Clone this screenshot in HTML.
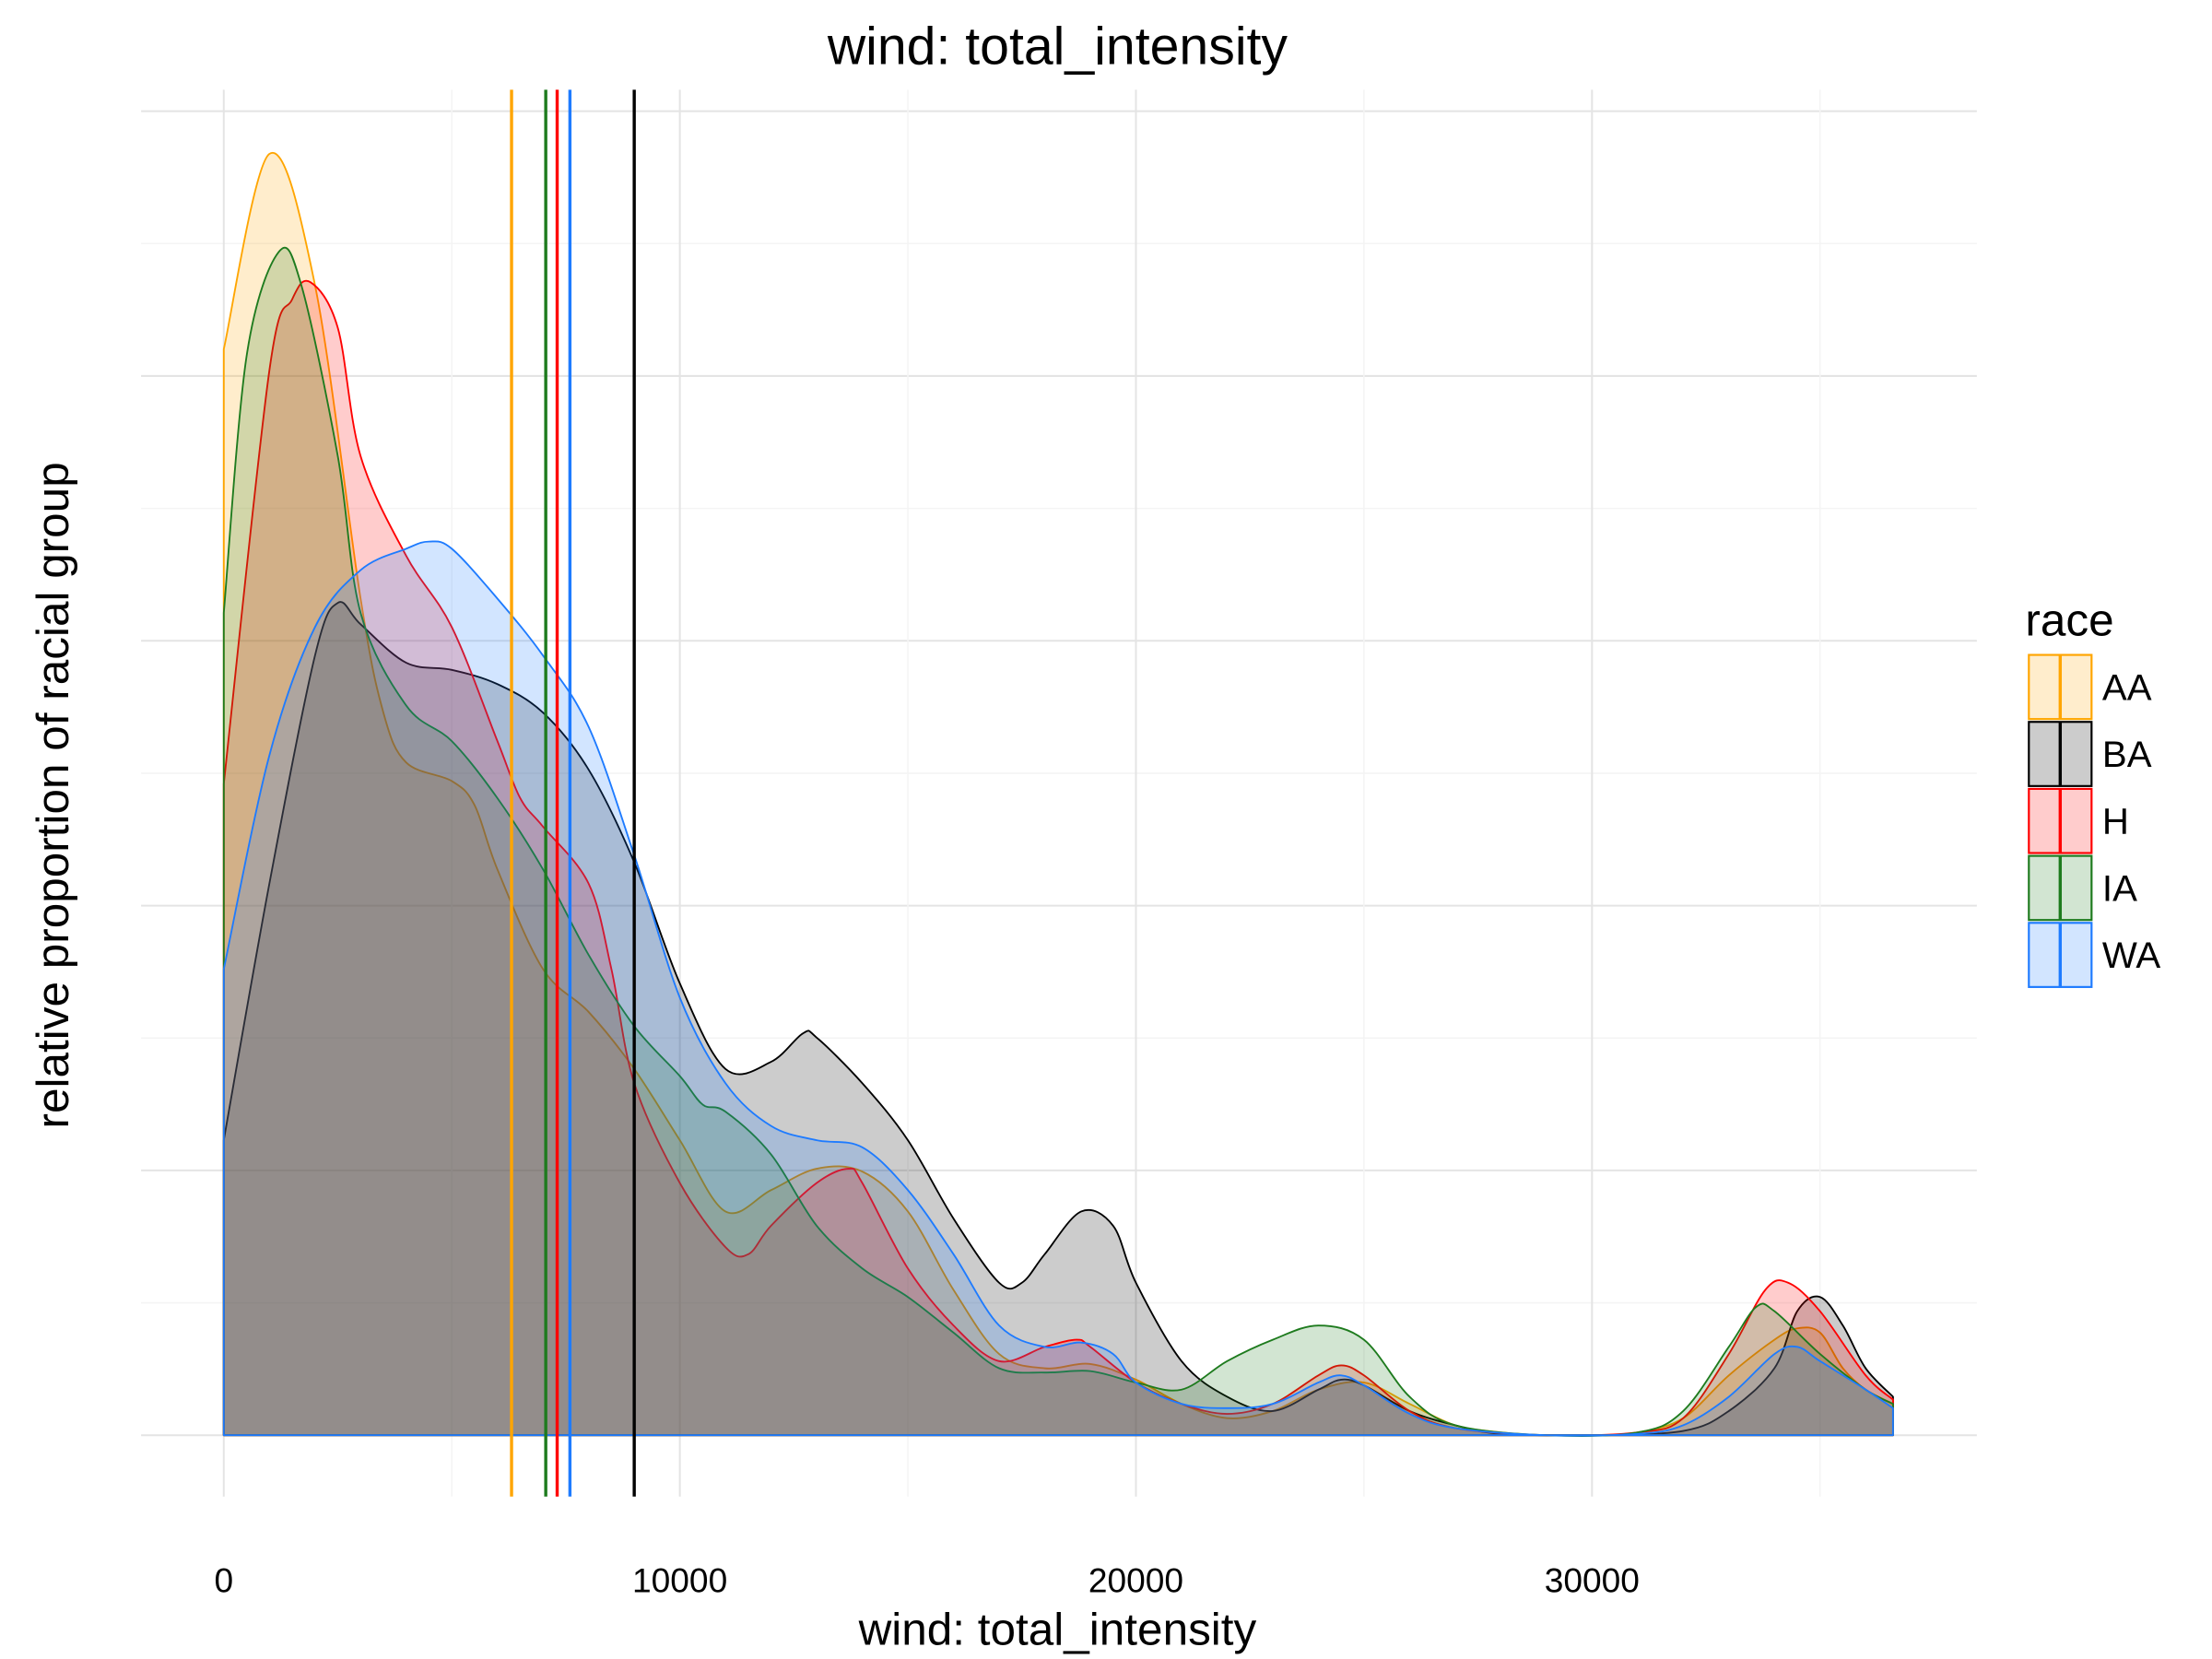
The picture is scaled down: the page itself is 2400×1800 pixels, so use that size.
<!DOCTYPE html>
<html><head><meta charset="utf-8"><style>
html,body{margin:0;padding:0;background:#fff;}
svg{display:block;font-family:"Liberation Sans",Arial,sans-serif;}
</style></head><body>
<svg id="chart" width="2400" height="1800" viewBox="0 0 1552 1164" xmlns="http://www.w3.org/2000/svg">
<rect width="1552" height="1164" fill="#fff"/>
<g id="grid"></g>
<g id="series"></g>
<g id="means"></g>
<text x="742" y="45" font-size="37" text-anchor="middle">wind: total_intensity</text>
<text x="742" y="1154" font-size="32" text-anchor="middle">wind: total_intensity</text>
<text transform="translate(48,558) rotate(-90)" font-size="32" text-anchor="middle">relative proportion of racial group</text>
<g id="xticks"></g>
<g id="legend">
<text x="1421" y="446" font-size="32">race</text>
</g>
</svg>
<script>
const races = ["AA","BA","H","IA","WA"];
const colors = ["#FFA500","#000000","#FF0000","#1E7B1E","#1E7BFF"];
const xTicks = [0,10000,20000,30000];
const xTickLabels = ["0","10000","20000","30000"];
const means = [6310, 9000, 7310, 7060, 7590];

const xAA = [0,1,2,3,3.5,4,5,5.5,6,7,8,9,10,11,12,13,14,15,16,17,18,19,20,21,22,23,24,25,26,27,28,29,30,31,32,33,34,34.5,35,35.5,36,36.6];
const yAA = [.762,.899,.807,.587,.507,.472,.459,.442,.397,.327,.297,.257,.207,.157,.172,.187,.185,.157,.102,.057,.047,.050,.039,.022,.012,.017,.032,.037,.022,.007,.002,0,0,.002,.012,.042,.067,.075,.072,.047,.032,.022];
const xBA = [0,1,2,2.5,3,4,5,6,7,8,9,10,11,12,12.7,13,14,15,16,17,17.5,18,18.8,19.5,20,21,22,23,24,24.5,25,26,27,28,30,32,33,34,34.5,35,35.5,36,36.6];
const yBA = [.207,.387,.547,.584,.569,.542,.537,.527,.507,.467,.402,.317,.257,.262,.282,.279,.247,.207,.152,.107,.107,.127,.157,.147,.107,.052,.027,.017,.032,.039,.035,.017,.007,.001,0,.003,.017,.047,.087,.097,.077,.047,.027];
const xH = [0,1,1.5,1.9,2.5,3,4,5,6,6.5,7,8,8.5,9,10,11,11.5,12,13,13.7,14,15,16,17,18,18.7,19,20,21,22,23,24,24.5,25,26,27,29,31,32,33,33.8,34.3,35,36,36.6];
const yH = [.457,.747,.797,.809,.777,.687,.617,.567,.487,.447,.427,.387,.327,.247,.177,.132,.127,.147,.177,.187,.177,.117,.077,.052,.062,.067,.062,.037,.022,.015,.022,.042,.049,.042,.017,.005,0,.002,.012,.057,.102,.107,.087,.042,.025];
const xIA = [0,0.5,1.2,1.7,2.5,3,4,5,6,7,8,9,10,10.5,11,12,13,14,15,16,17,18,19,20,21,22,23,24,25,26,27,29,31,32,33,33.6,34,35,36,36.6];
const yIA = [.577,.757,.830,.807,.687,.577,.512,.487,.447,.397,.337,.287,.252,.232,.227,.197,.147,.117,.097,.072,.047,.044,.045,.037,.032,.052,.067,.077,.067,.027,.007,0,.002,.017,.062,.090,.087,.057,.032,.022];
const xWA = [0,1,2,3,4,4.5,5,6,7,8,9,10,11,12,13,14,15,16,17,18,18.8,19.5,20,21,22,23,24,24.5,25,26,27,29,31,32,33,34,34.5,35,36,36.6];
const yWA = [.327,.477,.567,.607,.622,.627,.622,.587,.547,.497,.407,.307,.247,.217,.207,.202,.172,.127,.077,.062,.065,.057,.037,.022,.019,.022,.037,.042,.035,.015,.005,0,.001,.007,.027,.057,.062,.052,.032,.019];

const seriesX = [xAA,xBA,xH,xIA,xWA];
const seriesY = [yAA,yBA,yH,yIA,yWA];

const NS = "http://www.w3.org/2000/svg";
function xs(v){ return 157 + v*0.032; }
function xk(k){ return xs(k*1000); }
function ys(d){ return 1007 - d*1000; }
function mk(tag, attrs, parent){
  const e = document.createElementNS(NS, tag);
  for (const k in attrs) e.setAttribute(k, attrs[k]);
  parent.appendChild(e); return e;
}
const grid = document.getElementById('grid');
for (let i=0;i<11;i++){
  const y = ys(i*0.0929);
  const l = mk('line',{x1:99,x2:1387,y1:y,y2:y,stroke:i%2===0?'#e4e4e4':'#f4f4f4','stroke-width':i%2===0?1.3:1},grid);
  
  
}
for (let v=0; v<=35000; v+=5000){
  const x = xs(v);
  const l = mk('line',{x1:x,x2:x,y1:63,y2:1050,stroke:v%10000===0?'#e4e4e4':'#f4f4f4','stroke-width':v%10000===0?1.3:1},grid);
  
  
}
function smooth(pts){
  let d = `M${pts[0][0]},${pts[0][1]}`;
  for (let i=0;i<pts.length-1;i++){
    const p0=pts[Math.max(0,i-1)], p1=pts[i], p2=pts[i+1], p3=pts[Math.min(pts.length-1,i+2)];
    const c1x=p1[0]+(p2[0]-p0[0])/6, c1y=p1[1]+(p2[1]-p0[1])/6;
    const c2x=p2[0]-(p3[0]-p1[0])/6, c2y=p2[1]-(p3[1]-p1[1])/6;
    d += ` C${c1x.toFixed(2)},${c1y.toFixed(2)} ${c2x.toFixed(2)},${c2y.toFixed(2)} ${p2[0].toFixed(2)},${p2[1].toFixed(2)}`;
  }
  return d;
}
const sg = document.getElementById('series');
races.forEach((r,i)=>{
  const X = seriesX[i], Y = seriesY[i];
  const pts = X.map((x,j)=>[xk(x), ys(Y[j])]);
  const base = ys(0);
  let d = `M${xk(X[0])},${base} L` + smooth(pts).slice(1) + ` L${xk(X[X.length-1])},${base} Z`;
  const p = mk('path',{d:d,fill:colors[i],'fill-opacity':0.2,stroke:colors[i],'stroke-width':1.2,'stroke-linejoin':'round'},sg);
  
  
});
const mg = document.getElementById('means');
races.forEach((r,i)=>{
  const x = xs(means[i]);
  const l = mk('line',{x1:x,x2:x,y1:63,y2:1050,stroke:colors[i],'stroke-width':2.2},mg);
  
  
});
const tg = document.getElementById('xticks');
xTicks.forEach((v,i)=>{
  const t = mk('text',{x:xs(v),y:1117,'font-size':24,'text-anchor':'middle',fill:'#000'},tg);
  t.textContent = xTickLabels[i];
  
  
});
const lg = document.getElementById('legend');
races.forEach((r,i)=>{
  const y0 = 459 + i*47;
  const g = mk('g',{},lg);
  
  
  mk('rect',{x:1423.5,y:y0+0.5,width:44,height:45,fill:colors[i],'fill-opacity':0.2,stroke:colors[i],'stroke-width':1.4},g);
  mk('line',{x1:1445.5,x2:1445.5,y1:y0,y2:y0+46,stroke:colors[i],'stroke-width':2.2},g);
  const t = mk('text',{x:1475,y:y0+32,'font-size':26},g);
  t.textContent = r;
});
</script>
</body></html>
